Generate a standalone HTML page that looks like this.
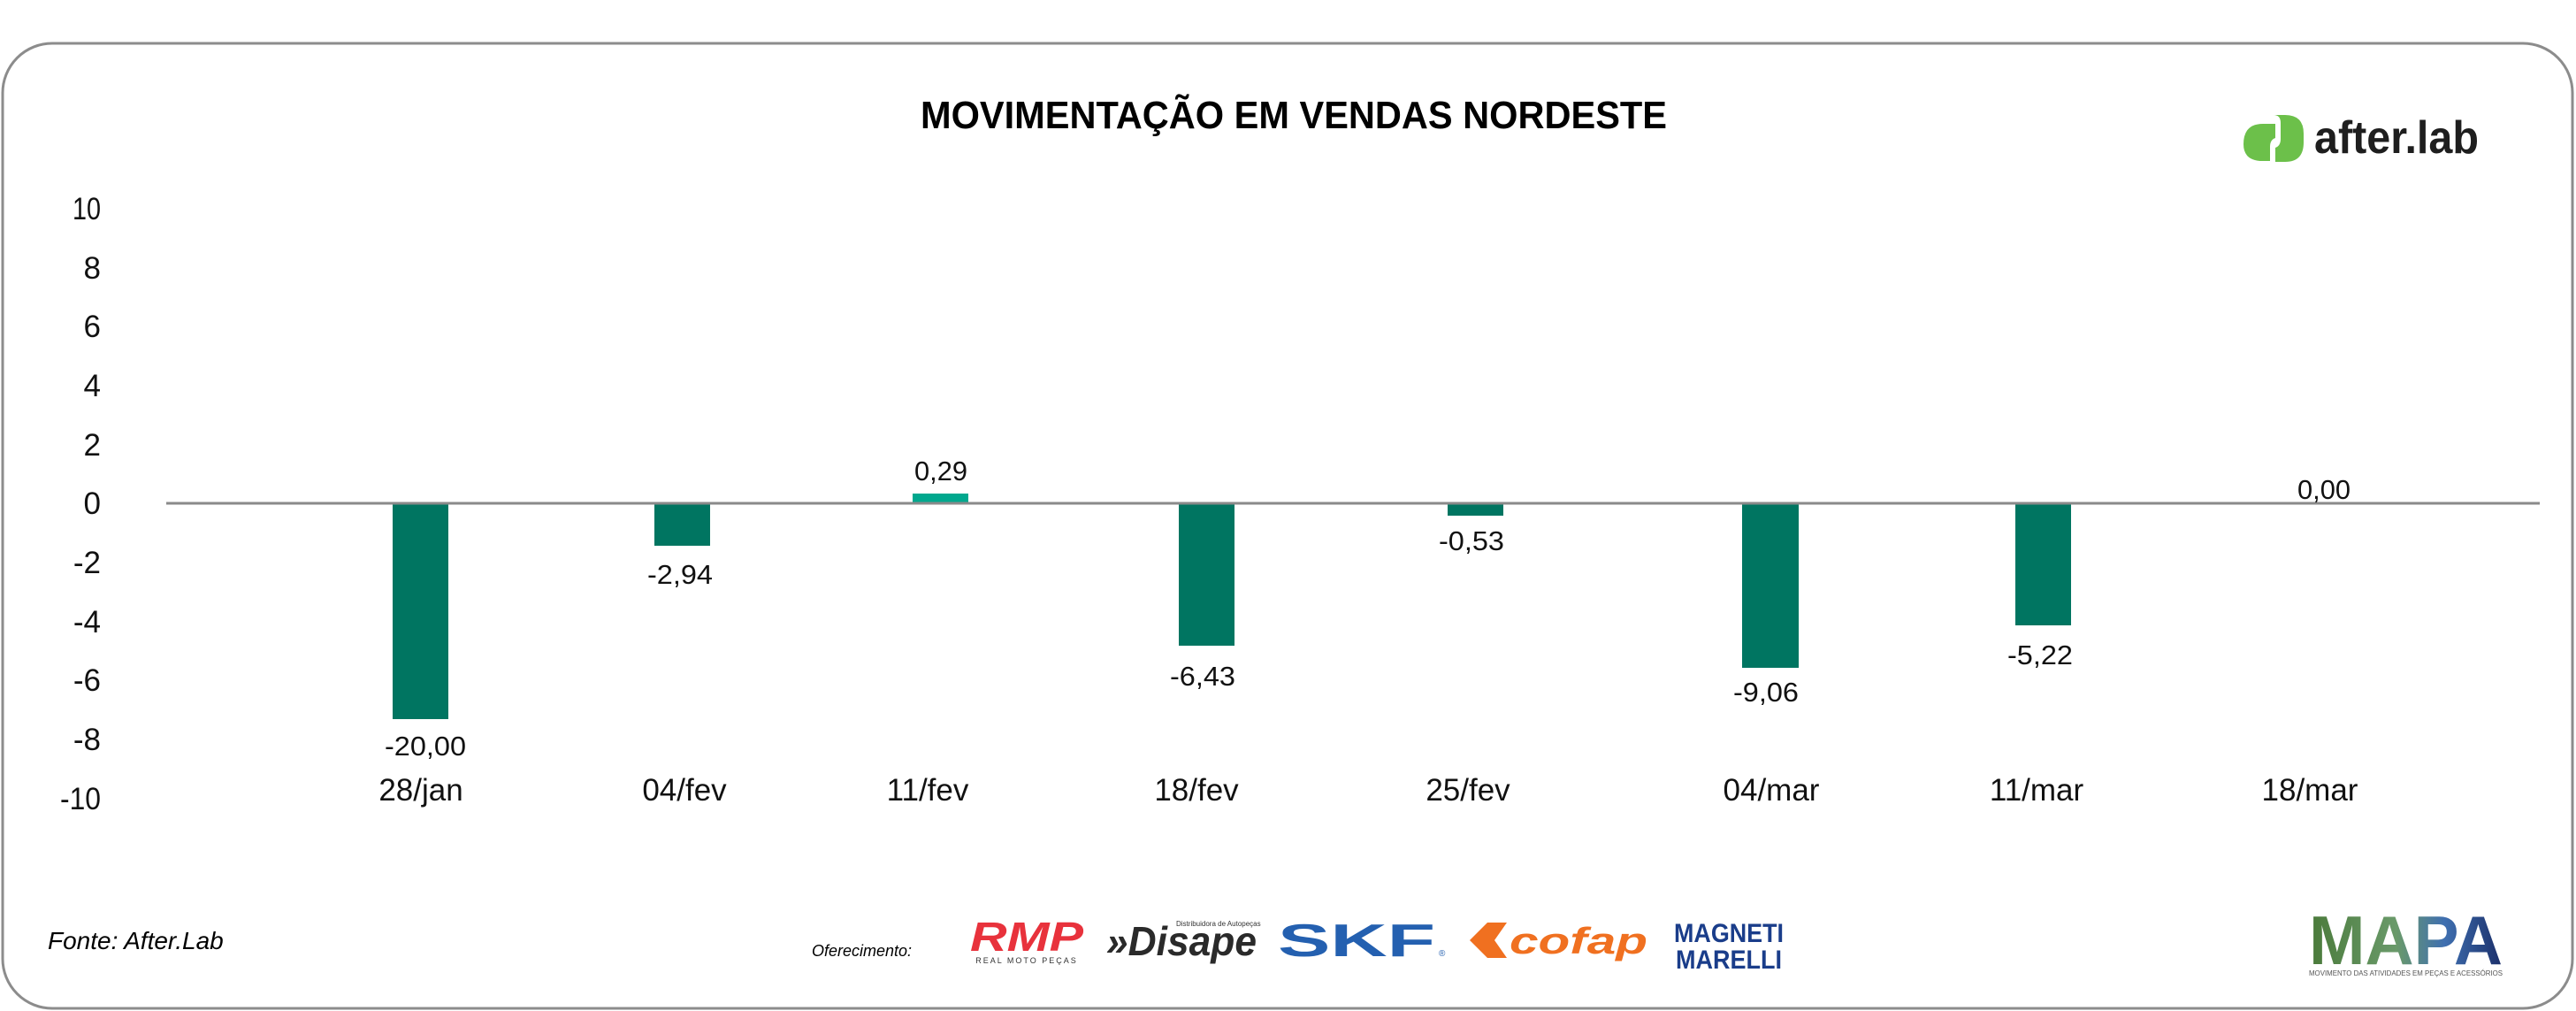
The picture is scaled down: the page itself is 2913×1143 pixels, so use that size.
<!DOCTYPE html>
<html><head><meta charset="utf-8"><style>
html,body{margin:0;padding:0;background:#fff;}
svg{display:block;}
text{font-family:"Liberation Sans",sans-serif;}
</style></head><body>
<svg width="2913" height="1143" viewBox="0 0 2913 1143" xmlns="http://www.w3.org/2000/svg">
<defs>
<linearGradient id="mg" x1="0" y1="0" x2="1" y2="0">
<stop offset="0" stop-color="#4a7a3a"/><stop offset="0.45" stop-color="#6a9a6a"/><stop offset="0.7" stop-color="#3f6fb0"/><stop offset="1" stop-color="#1b2f6a"/>
</linearGradient>
</defs>
<rect x="3" y="49" width="2906" height="1091" rx="56" ry="56" fill="#fff" stroke="#8c8c8c" stroke-width="3"/>
<text x="1463" y="145" text-anchor="middle" font-size="44" font-weight="bold" fill="#000" textLength="844" lengthAdjust="spacingAndGlyphs">MOVIMENTAÇÃO EM VENDAS NORDESTE</text>

<!-- after.lab logo -->
<path d="M2537 163 q0-23 22-23 h14 v16 q-6 2-6 10 v16 h-8 q-22 0-22-19z" fill="#6cc04a"/>
<path d="M2562 130 h22 q21 0 21 21 v10 q0 22-21 22 h-11 v-16 q6-2 6-10 v-18 q0-9-8-9z" fill="#6cc04a"/>
<text x="2617" y="173" font-size="52" font-weight="bold" fill="#1e1e1e" textLength="186" lengthAdjust="spacingAndGlyphs">after.lab</text>

<!-- y axis labels -->
<g font-size="35" fill="#111" text-anchor="end">
<text x="114" y="248" textLength="32" lengthAdjust="spacingAndGlyphs">10</text>
<text x="114" y="315">8</text>
<text x="114" y="381">6</text>
<text x="114" y="448">4</text>
<text x="114" y="515">2</text>
<text x="114" y="581">0</text>
<text x="114" y="648">-2</text>
<text x="114" y="715">-4</text>
<text x="114" y="781">-6</text>
<text x="114" y="848">-8</text>
<text x="114" y="915" textLength="46" lengthAdjust="spacingAndGlyphs">-10</text>
</g>

<!-- bars -->
<g fill="#007561">
<rect x="444" y="569" width="63" height="244"/>
<rect x="740" y="569" width="63" height="48"/>
<rect x="1333" y="569" width="63" height="161"/>
<rect x="1637" y="569" width="63" height="14"/>
<rect x="1970" y="569" width="64" height="186"/>
<rect x="2279" y="569" width="63" height="138"/>
</g>
<rect x="1032" y="558" width="63" height="11" fill="#00a88e"/>
<line x1="188" y1="569" x2="2872" y2="569" stroke="#8a8a8a" stroke-width="3"/>

<!-- data labels -->
<g font-size="31" fill="#111" text-anchor="middle">
<text x="481" y="854" textLength="92" lengthAdjust="spacingAndGlyphs">-20,00</text>
<text x="769" y="660" textLength="74" lengthAdjust="spacingAndGlyphs">-2,94</text>
<text x="1064" y="543" textLength="60" lengthAdjust="spacingAndGlyphs">0,29</text>
<text x="1360" y="775" textLength="74" lengthAdjust="spacingAndGlyphs">-6,43</text>
<text x="1664" y="622" textLength="74" lengthAdjust="spacingAndGlyphs">-0,53</text>
<text x="1997" y="793" textLength="74" lengthAdjust="spacingAndGlyphs">-9,06</text>
<text x="2307" y="751" textLength="74" lengthAdjust="spacingAndGlyphs">-5,22</text>
<text x="2628" y="564" textLength="60" lengthAdjust="spacingAndGlyphs">0,00</text>
</g>
<!-- category labels -->
<g font-size="35" fill="#111" text-anchor="middle">
<text x="476" y="905">28/jan</text>
<text x="774" y="905">04/fev</text>
<text x="1049" y="905">11/fev</text>
<text x="1353" y="905">18/fev</text>
<text x="1660" y="905">25/fev</text>
<text x="2003" y="905">04/mar</text>
<text x="2303" y="905">11/mar</text>
<text x="2612" y="905">18/mar</text>
</g>

<text x="54" y="1073" font-size="28" font-style="italic" fill="#000">Fonte: After.Lab</text>
<text x="918" y="1081" font-size="18" font-style="italic" fill="#000">Oferecimento:</text>

<!-- RMP -->
<text x="1097" y="1075" font-size="46" font-weight="bold" font-style="italic" fill="#e8323c" textLength="128" lengthAdjust="spacingAndGlyphs">RMP</text>
<text x="1161" y="1089" font-size="9" fill="#333" text-anchor="middle" letter-spacing="2">REAL MOTO PEÇAS</text>
<!-- Disape -->
<text x="1251" y="1080" font-size="46" font-weight="bold" font-style="italic" fill="#2a2a2a" textLength="170" lengthAdjust="spacingAndGlyphs">»Disape</text>
<text x="1330" y="1047" font-size="8" fill="#333">Distribuidora de Autopeças</text>
<!-- SKF -->
<text x="1445" y="1081" font-size="52" font-weight="bold" fill="#2460b0" textLength="178" lengthAdjust="spacingAndGlyphs">SKF</text>
<text x="1627" y="1081" font-size="10" fill="#2460b0">®</text>
<!-- cofap -->
<path d="M1662 1063 l20-20 h22 l-14 20 l14 20 h-22z" fill="#f07020"/>
<text x="1707" y="1078" font-size="42" font-weight="bold" font-style="italic" fill="#f07020" textLength="156" lengthAdjust="spacingAndGlyphs">cofap</text>
<!-- Magneti Marelli -->
<text x="1893" y="1065" font-size="30" font-weight="bold" fill="#1a3d8a" textLength="124" lengthAdjust="spacingAndGlyphs">MAGNETI</text>
<text x="1895" y="1095" font-size="30" font-weight="bold" fill="#1a3d8a" textLength="120" lengthAdjust="spacingAndGlyphs">MARELLI</text>
<!-- MAPA -->
<text x="2611" y="1090" font-size="78" font-weight="bold" fill="url(#mg)" textLength="219" lengthAdjust="spacingAndGlyphs">MAPA</text>
<text x="2611" y="1103" font-size="8" fill="#555" textLength="219" lengthAdjust="spacingAndGlyphs">MOVIMENTO DAS ATIVIDADES EM PEÇAS E ACESSÓRIOS</text>
</svg>
</body></html>
